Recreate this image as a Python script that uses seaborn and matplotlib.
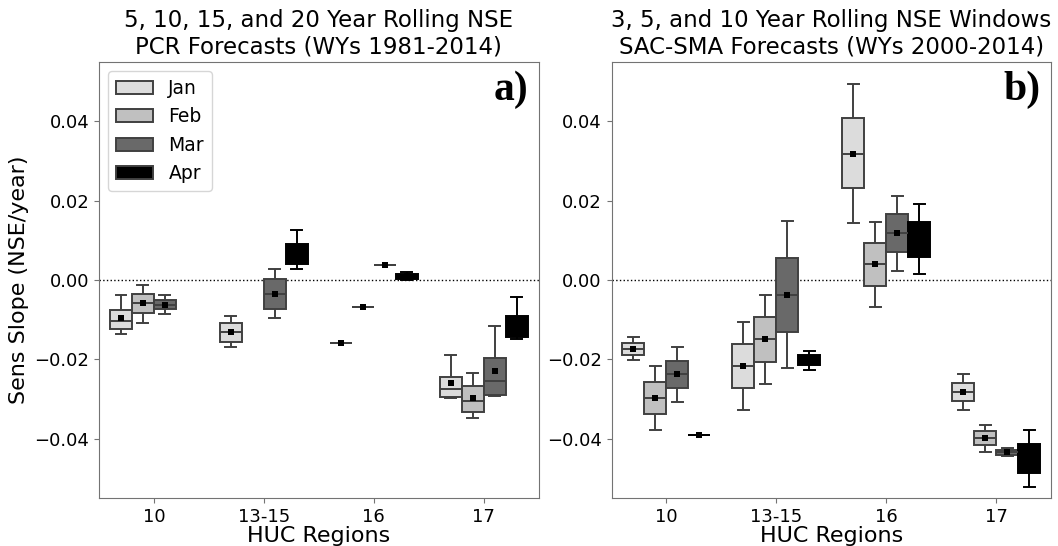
import matplotlib
matplotlib.use("Agg")
import matplotlib.pyplot as plt
import pandas as pd
import seaborn as sns

# HUC regions on the x axis and forecast issue months as hue
regions = ["10", "13-15", "16", "17"]
months = ["Jan", "Feb", "Mar", "Apr"]
month_colors = ["#dcdcdc", "#c0c0c0", "#696969", "#000000"]

# Sen's slope summaries per region: [low whisker, Q1, median, Q3, high whisker]
# (a single value marks a collapsed box); None = no forecasts for that month.
# PCR forecasts, WYs 1981-2014
pcr_jan = [[-0.0137, -0.0124, -0.0103, -0.0075, -0.0039],
           [-0.0170, -0.0156, -0.0132, -0.0108, -0.0091],
           [-0.0160],
           [-0.0298, -0.0294, -0.0276, -0.0244, -0.0190]]
pcr_feb = [[-0.0108, -0.0084, -0.0059, -0.0035, -0.0012],
           None,
           [-0.0068],
           [-0.0348, -0.0333, -0.0304, -0.0268, -0.0234]]
pcr_mar = [[-0.0087, -0.0074, -0.0062, -0.0050, -0.0039],
           [-0.0097, -0.0074, -0.0035, 0.0003, 0.0027],
           [0.0039],
           [-0.0292, -0.0290, -0.0256, -0.0196, -0.0115]]
pcr_apr = [None,
           [0.0027, 0.0040, 0.0065, 0.0092, 0.0127],
           [0.0001, 0.0003, 0.0009, 0.0015, 0.0021],
           [-0.0150, -0.0145, -0.0120, -0.0092, -0.0042]]

pcr_mean_jan = [-0.0097, -0.0132, -0.0160, -0.0261]
pcr_mean_feb = [-0.0059, None, -0.0068, -0.0298]
pcr_mean_mar = [-0.0062, -0.0035, 0.0039, -0.0229]
pcr_mean_apr = [None, 0.0066, 0.0009, -0.0118]

# SAC-SMA forecasts, WYs 2000-2014
sac_jan = [[-0.0202, -0.0188, -0.0174, -0.0160, -0.0145],
           [-0.0327, -0.0272, -0.0216, -0.0161, -0.0107],
           [0.0144, 0.0232, 0.0319, 0.0408, 0.0495],
           [-0.0328, -0.0306, -0.0282, -0.0260, -0.0237]]
sac_feb = [[-0.0379, -0.0338, -0.0298, -0.0257, -0.0216],
           [-0.0263, -0.0207, -0.0150, -0.0093, -0.0037],
           [-0.0068, -0.0015, 0.0040, 0.0093, 0.0147],
           [-0.0434, -0.0417, -0.0399, -0.0382, -0.0365]]
sac_mar = [[-0.0307, -0.0272, -0.0237, -0.0204, -0.0169],
           [-0.0223, -0.0130, -0.0037, 0.0055, 0.0148],
           [0.0022, 0.0070, 0.0118, 0.0166, 0.0213],
           [-0.0444, -0.0441, -0.0434, -0.0428, -0.0425]]
sac_apr = [[-0.0392],
           [-0.0227, -0.0214, -0.0201, -0.0190, -0.0179],
           [0.0016, 0.0059, 0.0103, 0.0147, 0.0191],
           [-0.0521, -0.0487, -0.0450, -0.0415, -0.0379]]

sac_mean_jan = [-0.0174, -0.0216, 0.0319, -0.0282]
sac_mean_feb = [-0.0298, -0.0150, 0.0040, -0.0399]
sac_mean_mar = [-0.0237, -0.0037, 0.0118, -0.0434]
sac_mean_apr = [-0.0392, -0.0201, 0.0103, -0.0450]

titles = ["5, 10, 15, and 20 Year Rolling NSE\nPCR Forecasts (WYs 1981-2014)",
          "3, 5, and 10 Year Rolling NSE Windows\nSAC-SMA Forecasts (WYs 2000-2014)"]
panel_tags = ["a)", "b)"]
yticks = [-0.04, -0.02, 0.00, 0.02, 0.04]


def long_table(per_month):
    rows = []
    for month, groups in zip(months, per_month):
        for region, vals in zip(regions, groups):
            if vals is None:
                continue
            for v in vals:
                rows.append({"region": region, "month": month, "slope": v})
    return pd.DataFrame(rows)


def mean_table(per_month):
    rows = []
    for month, means in zip(months, per_month):
        for region, m in zip(regions, means):
            if m is not None:
                rows.append({"region": region, "month": month, "slope": m})
    return pd.DataFrame(rows)


panels = [
    (long_table([pcr_jan, pcr_feb, pcr_mar, pcr_apr]),
     mean_table([pcr_mean_jan, pcr_mean_feb, pcr_mean_mar, pcr_mean_apr])),
    (long_table([sac_jan, sac_feb, sac_mar, sac_apr]),
     mean_table([sac_mean_jan, sac_mean_feb, sac_mean_mar, sac_mean_apr])),
]

plt.rcParams.update({
    "font.family": ["DejaVu Sans"],
    "axes.edgecolor": "0.45",
    "xtick.color": "0.45",
    "ytick.color": "0.45",
    "xtick.labelcolor": "black",
    "ytick.labelcolor": "black",
})

fig, axes = plt.subplots(1, 2, figsize=(10.58, 5.46), dpi=100)
fig.subplots_adjust(left=0.0936, right=0.9934, top=0.8864, bottom=0.0879,
                    wspace=0.166)

palette = dict(zip(months, month_colors))
black = {m: "black" for m in months}
box_kws = dict(x="region", y="slope", hue="month", order=regions,
               hue_order=months, palette=palette, saturation=1, width=0.8,
               dodge=True, linewidth=1.4, showfliers=False)

for i, (ax, (box_df, mean_df)) in enumerate(zip(axes, panels)):
    ax.axhline(0, color="black", linestyle=":", linewidth=1, zorder=0)
    light = box_df[box_df["month"] != "Apr"]
    dark = box_df[box_df["month"] == "Apr"]
    # light boxes get dark-gray outlines, April boxes are solid black
    sns.boxplot(data=light, linecolor="0.25", legend=(i == 0), ax=ax, **box_kws)
    sns.boxplot(data=dark, linecolor="black", legend=False, ax=ax, **box_kws)
    sns.stripplot(data=mean_df, x="region", y="slope", hue="month",
                  order=regions, hue_order=months, palette=black,
                  dodge=True, jitter=False, marker="s", size=4.8,
                  linewidth=0, legend=False, zorder=4, ax=ax)

    ax.set_xlim(-0.5, 3.5)
    ax.set_ylim(-0.055, 0.055)
    ax.set_yticks(yticks)
    ax.tick_params(labelsize=13)
    ax.set_xlabel("HUC Regions", fontsize=16, labelpad=0)
    ax.set_ylabel("Sens Slope (NSE/year)" if i == 0 else "", fontsize=16)
    ax.set_title(titles[i], fontsize=16.5)
    ax.annotate(panel_tags[i], xy=(1, 1), xycoords="axes fraction",
                xytext=(-10, -9), textcoords="offset pixels",
                ha="right", va="top", fontsize=30, fontweight="bold",
                family="Liberation Serif")

sns.move_legend(axes[0], "upper left", title=None, fontsize=13.5)

fig.savefig("out.png", dpi=100)
